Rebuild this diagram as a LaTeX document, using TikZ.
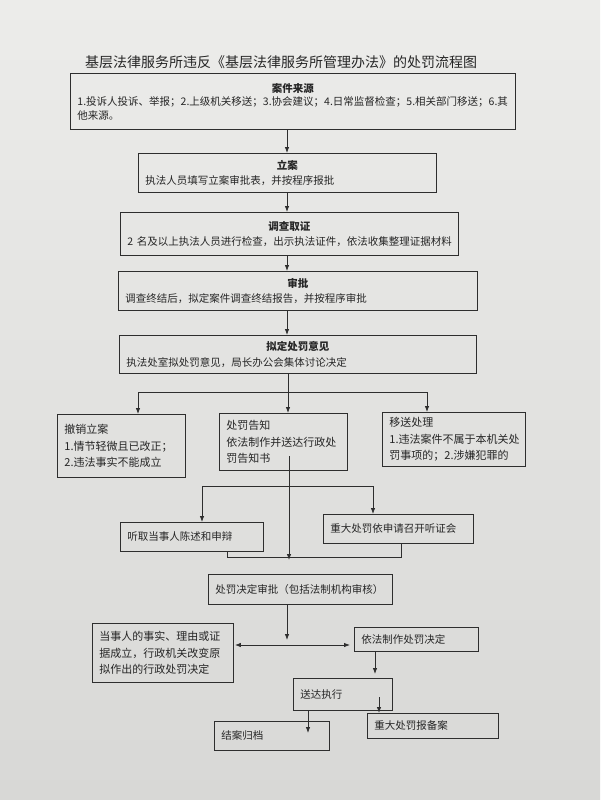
\documentclass[tikz,border=0pt]{standalone}
\usepackage{fontspec}
\setmainfont{Noto Sans CJK SC}
\usetikzlibrary{arrows.meta}
\setlength{\parindent}{0pt}
\definecolor{bgtop}{HTML}{ECECEA}
\definecolor{bgbot}{HTML}{D8D8D6}
\definecolor{ink}{HTML}{2E2E2E}
\definecolor{txt}{HTML}{262626}
\newcommand\bodyfont{\fontsize{10.5}{15.5}\selectfont}
\newcommand\sidefont{\fontsize{11}{16.5}\selectfont}
\tikzset{
  flowbox/.style={draw=ink, line width=0.9pt, anchor=north west, inner xsep=7pt,
    inner ysep=2pt, align=left, font=\bodyfont, text=txt},
  sidebox/.style={flowbox, font=\sidefont},
  conn/.style={draw=ink, line width=0.8pt},
  arr/.style={conn, -{Latex[length=6pt,width=4.5pt]}},
  arrboth/.style={conn, {Latex[length=6pt,width=4.5pt]}-{Latex[length=6pt,width=4.5pt]}},
}
\begin{document}
\begin{tikzpicture}[x=1pt,y=-1pt]
\shade[top color=bgtop,bottom color=bgbot] (0,0) rectangle (600,800);
\useasboundingbox (0,0) rectangle (600,800);

\node[text=txt, font=\fontsize{14}{16}\selectfont] (title) at (281,62)
  {基层法律服务所违反《基层法律服务所管理办法》的处罚流程图};

\node[flowbox, font=\fontsize{10.5}{13.5}\selectfont, text width=431pt, minimum height=56pt] (src) at (70,73)
  {{\centering\bfseries 案件来源\par}1.投诉人投诉、举报；2.上级机关移送；3.协会建议；4.日常监督检查；5.相关部门移送；6.其\\他来源。};

\node[flowbox, text width=284pt, minimum height=39pt] (lian) at (138,153)
  {{\centering\bfseries 立案\par}执法人员填写立案审批表，并按程序报批};

\node[flowbox, text width=324pt, minimum height=43pt] (diaocha) at (120,212)
  {{\centering\bfseries 调查取证\par}2~名及以上执法人员进行检查，出示执法证件，依法收集整理证据材料};

\node[flowbox, text width=345pt, minimum height=39pt] (shenpi) at (118,271)
  {{\centering\bfseries 审批\par}调查终结后，拟定案件调查终结报告，并按程序审批};

\node[flowbox, text width=343pt, minimum height=38pt] (niding) at (119,335)
  {{\centering\bfseries 拟定处罚意见\par}执法处室拟处罚意见，局长办公会集体讨论决定};

\node[sidebox, text width=114pt, minimum height=63pt] (chexiao) at (57,414)
  {撤销立案\\1.情节轻微且已改正；\\2.违法事实不能成立};
\node[sidebox, text width=114pt, minimum height=57pt] (gaozhi) at (219,413)
  {处罚告知\\依法制作并送达行政处\\罚告知书};
\node[sidebox, text width=129pt, minimum height=54pt] (yisong) at (382,412)
  {移送处理\\1.违法案件不属于本机关处\\罚事项的；2.涉嫌犯罪的};

\node[flowbox, text width=129pt, minimum height=29pt] (tingqu) at (120,522)
  {听取当事人陈述和申辩};
\node[flowbox, text width=136pt, minimum height=29pt] (zhongda) at (323,514)
  {重大处罚依申请召开听证会};

\node[flowbox, text width=170pt, minimum height=30pt] (jdsp) at (208,574)
  {处罚决定审批（包括法制机构审核）};

\node[sidebox, text width=127pt, minimum height=59pt] (dangshi) at (92,623)
  {当事人的事实、理由或证\\据成立，行政机关改变原\\拟作出的行政处罚决定};
\node[flowbox, text width=110pt, minimum height=24pt] (yifa) at (354,627)
  {依法制作处罚决定};

\node[flowbox, text width=85pt, minimum height=32pt] (songda) at (293,678)
  {送达执行};
\node[flowbox, text width=101pt, minimum height=29pt] (jiean) at (214,721)
  {结案归档};
\node[flowbox, text width=117pt, minimum height=25pt] (beian) at (367,713)
  {重大处罚报备案};

% main column
\coordinate (ax) at (287,0);
\draw[arr] (src.south -| ax) -- (lian.north -| ax);
\draw[arr] (lian.south -| ax) -- (diaocha.north -| ax);
\draw[arr] (diaocha.south -| ax) -- (shenpi.north -| ax);
\draw[arr] (shenpi.south -| ax) -- (niding.north -| ax);

% three-way split
\coordinate (j1) at (288,392);
\coordinate (jL) at (138,392);
\coordinate (jR) at (427,392);
\draw[conn] (niding.south -| j1) -- (j1);
\draw[conn] (jL) -- (jR);
\draw[arr] (jL) -- (jL |- chexiao.north);
\draw[arr] (j1) -- (j1 |- gaozhi.north);
\draw[arr] (jR) -- (jR |- yisong.north);

% from notice
\coordinate (g1) at (289,456);
\coordinate (g2) at (289,560);
\draw[arr] (g1) -- (g2);
\coordinate (hL) at (202,486);
\coordinate (hR) at (373,486);
\draw[conn] (hL) -- (hR);
\draw[arr] (hL) -- (hL |- tingqu.north);
\draw[arr] (hR) -- (hR |- zhongda.north);
\coordinate (bL) at (227,557);
\coordinate (bR) at (401,557);
\draw[conn] (tingqu.south -| bL) -- (bL) -- (bR) -- (zhongda.south -| bR);

% decision
\coordinate (d1) at (287,640);
\draw[arr] (jdsp.south -| d1) -- (d1);
\coordinate (m) at (0,645);
\draw[arrboth, shorten <=1pt, shorten >=4pt] (dangshi.east |- m) -- (yifa.west |- m);

\coordinate (y1) at (375,0);
\draw[arr, shorten >=4pt] (yifa.south -| y1) -- (songda.north -| y1);
\coordinate (s1) at (379,697);
\draw[arr] (s1) -- (s1 |- beian.north);
\coordinate (s2) at (308,733);
\draw[arr] (songda.south -| s2) -- (s2);
\end{tikzpicture}
\end{document}
